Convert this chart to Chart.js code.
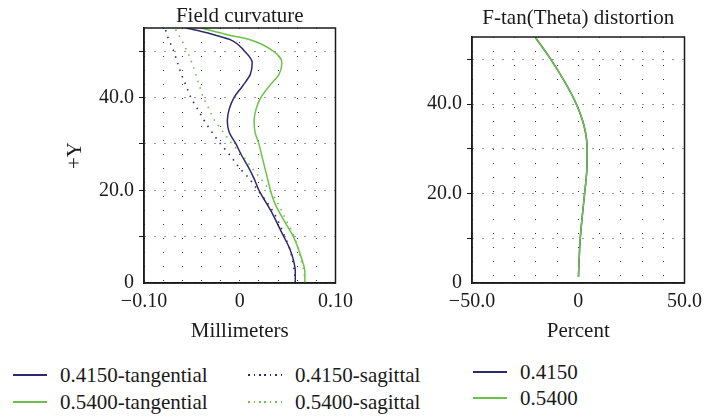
<!DOCTYPE html>
<html>
<head>
<meta charset="utf-8">
<script src="https://cdn.jsdelivr.net/npm/chart.js@4.4.0/dist/chart.umd.min.js"></script>
<style>
  html, body { margin: 0; padding: 0; background: #fff; }
  #wrap { position: relative; width: 709px; height: 417px; overflow: hidden; font-family: "Liberation Serif", "Times New Roman", serif; color: #1a1a1a; }
  #fieldChart { position: absolute; left: 0; top: 0; }
  #distChart { position: absolute; left: 360px; top: 0; }
  .sw { position: absolute; width: 34px; height: 1.5px; }
  .lt { position: absolute; font-size: 21px; line-height: 24px; white-space: nowrap; }
</style>
</head>
<body>
<div id="wrap">
  <canvas id="fieldChart" width="360" height="345"></canvas>
  <canvas id="distChart" width="349" height="345"></canvas>
  <div id="legends"></div>
</div>
<script>
// Field heights (+Y) shared by the field curvature curves
const fieldHeights = [0, 2.5, 5, 7.5, 10, 12.5, 15, 17.5, 20, 22.5, 25, 27.5, 30, 32.5, 35, 37.5, 40, 42.5, 45, 47.5, 50, 52.5, 53.5, 54.3, 55];
// Focus shift in millimeters
const tan4150 = [0.058, 0.058, 0.056, 0.052, 0.046, 0.040, 0.034, 0.027, 0.020, 0.015, 0.009, 0.002, -0.004, -0.011, -0.013, -0.011, -0.006, 0.003, 0.011, 0.013, 0.005, -0.010, -0.026, -0.041, -0.056];
const sag4150 = [0.058, 0.057, 0.055, 0.052, 0.047, 0.042, 0.036, 0.028, 0.019, 0.010, -0.001, -0.010, -0.020, -0.029, -0.037, -0.044, -0.051, -0.056, -0.061, -0.065, -0.069, -0.074, -0.076, -0.077, -0.078];
const tan5400 = [0.068, 0.068, 0.065, 0.061, 0.056, 0.049, 0.042, 0.036, 0.032, 0.029, 0.026, 0.023, 0.020, 0.016, 0.015, 0.017, 0.022, 0.031, 0.041, 0.044, 0.035, 0.010, -0.012, -0.027, -0.041];
const sag5400 = [0.068, 0.067, 0.064, 0.061, 0.057, 0.051, 0.045, 0.039, 0.031, 0.022, 0.012, 0.003, -0.008, -0.017, -0.026, -0.032, -0.038, -0.042, -0.046, -0.050, -0.055, -0.061, -0.064, -0.066, -0.068];

// F-tan(Theta) distortion in percent
const distHeights = [1.4, 5, 10, 15, 20, 25, 30, 35, 40, 45, 50, 55];
const dist4150 = [0.1, 0.4, 0.95, 1.9, 3.0, 4.0, 4.2, 2.8, -0.9, -6.4, -12.9, -20.3];
const dist5400 = [0.1, 0.4, 0.95, 1.9, 3.0, 4.0, 4.2, 2.8, -0.9, -6.4, -12.9, -20.3];

const fieldLabels = ["0.4150-tangential", "0.5400-tangential", "0.4150-sagittal", "0.5400-sagittal"];
const distLabels = ["0.4150", "0.5400"];

const NAVY = "#2b2b6e";
const GREEN = "#6cc24a";
const INK = "#1a1a1a";
const DOTS = [1.5, 5.5];

Chart.defaults.font.family = '"Liberation Serif", "Times New Roman", serif';
Chart.defaults.font.size = 20;
Chart.defaults.color = INK;

const pts = (ys, xs) => ys.map((y, i) => ({ x: xs[i], y }));

function series(label, ys, xs, color, dotted, order) {
  return {
    label,
    data: pts(ys, xs),
    borderColor: color,
    backgroundColor: color,
    borderWidth: dotted ? 1.6 : 1.5,
    borderDash: dotted ? DOTS : [],
    pointRadius: 0,
    fill: false,
    cubicInterpolationMode: "monotone",
    order
  };
}

// draws the closed box around each plot
const frame = {
  id: "frame",
  afterDatasetsDraw(chart) {
    const { ctx, chartArea: a } = chart;
    ctx.save();
    ctx.strokeStyle = INK;
    ctx.lineWidth = 1.5;
    ctx.strokeRect(a.left, a.top, a.right - a.left, a.bottom - a.top);
    ctx.restore();
  }
};

function yAxis(width, title) {
  return {
    type: "linear",
    min: 0,
    max: 55,
    ticks: {
      stepSize: 10,
      includeBounds: false,
      autoSkip: false,
      padding: 5,
      callback: v => (v % 20 === 0 ? (v === 0 ? "0" : v.toFixed(1)) : "")
    },
    grid: {
      color: "#333",
      lineWidth: 1,
      tickLength: 5,
      tickColor: c => (c.tick && c.tick.value === 0 ? "rgba(0,0,0,0)" : INK),
      tickBorderDash: []
    },
    border: { display: true, color: INK, width: 1.5, dash: [1, 9] },
    title: title
      ? { display: true, text: title, padding: { top: 65, bottom: 0 }, font: { size: 21, lineHeight: 1 } }
      : { display: false },
    afterFit(s) { s.width = width; }
  };
}

function xAxis(min, max, step, labelFn, title) {
  return {
    type: "linear",
    min,
    max,
    ticks: { stepSize: step, includeBounds: false, autoSkip: false, maxRotation: 0, padding: 7, callback: labelFn },
    grid: { color: "#333", lineWidth: 1, drawTicks: false },
    border: { display: true, color: INK, width: 1.5, dash: [1, 13] },
    title: { display: true, text: title, padding: { top: 0, bottom: 3 }, font: { size: 21, lineHeight: 1 } },
    afterFit(s) { s.height = 62; }
  };
}

function chartTitle(text, top, bottom) {
  return {
    display: true,
    text,
    fullSize: false,
    color: INK,
    padding: { top, bottom },
    font: { size: 21, weight: "normal", lineHeight: 1 }
  };
}

const fieldSets = [
  series(fieldLabels[0], fieldHeights, tan4150, NAVY, false, 1),
  series(fieldLabels[1], fieldHeights, tan5400, GREEN, false, 2),
  series(fieldLabels[2], fieldHeights, sag4150, NAVY, true, 3),
  series(fieldLabels[3], fieldHeights, sag5400, GREEN, true, 4)
];

new Chart(document.getElementById("fieldChart"), {
  type: "line",
  data: { datasets: fieldSets },
  options: {
    responsive: false,
    animation: false,
    indexAxis: "y",
    layout: { padding: { left: 0, right: 18, top: 0, bottom: 0 } },
    scales: {
      x: xAxis(-0.1, 0.1, 0.02, v => {
        if (Math.abs(v) < 1e-9) return "0";
        if (Math.abs(Math.abs(v) - 0.1) < 1e-9) return v < 0 ? "\u22120.10" : "0.10";
        return "";
      }, "Millimeters"),
      y: yAxis(144, "+Y")
    },
    plugins: {
      legend: { display: false },
      tooltip: { enabled: false },
      title: chartTitle("Field curvature", 6, 1)
    }
  },
  plugins: [frame]
});

const distSets = [
  series(distLabels[0], distHeights, dist4150, NAVY, false, 2),
  series(distLabels[1], distHeights, dist5400, GREEN, false, 1)
];

new Chart(document.getElementById("distChart"), {
  type: "line",
  data: { datasets: distSets },
  options: {
    responsive: false,
    animation: false,
    indexAxis: "y",
    layout: { padding: { left: 0, right: 18, top: 0, bottom: 0 } },
    scales: {
      x: xAxis(-50, 50, 10, v => {
        if (v === 0) return "0";
        if (Math.abs(v) === 50) return v < 0 ? "\u221250.0" : "50.0";
        return "";
      }, "Percent"),
      y: yAxis(112, null)
    },
    plugins: {
      legend: { display: false },
      tooltip: { enabled: false },
      title: chartTitle("F-tan(Theta) distortion", 8, 8)
    }
  },
  plugins: [frame]
});

// HTML legends laid out like the original figure
function legendItem(host, ds, x, y) {
  const sw = document.createElement("div");
  sw.className = "sw";
  sw.style.left = x + "px";
  sw.style.top = (y - 0.75) + "px";
  if (ds.borderDash.length) {
    sw.style.background = `repeating-linear-gradient(90deg, ${ds.borderColor} 0 1.5px, transparent 1.5px 5.5px)`;
  } else {
    sw.style.background = ds.borderColor;
  }
  host.appendChild(sw);
  const t = document.createElement("div");
  t.className = "lt";
  t.style.left = (x + 47) + "px";
  t.style.top = (y - 12.5) + "px";
  t.textContent = ds.label;
  host.appendChild(t);
}

const host = document.getElementById("legends");
legendItem(host, fieldSets[0], 13, 375);
legendItem(host, fieldSets[1], 13, 402);
legendItem(host, fieldSets[2], 248, 375);
legendItem(host, fieldSets[3], 248, 402);
legendItem(host, distSets[0], 473, 372);
legendItem(host, distSets[1], 473, 398);
</script>
</body>
</html>
